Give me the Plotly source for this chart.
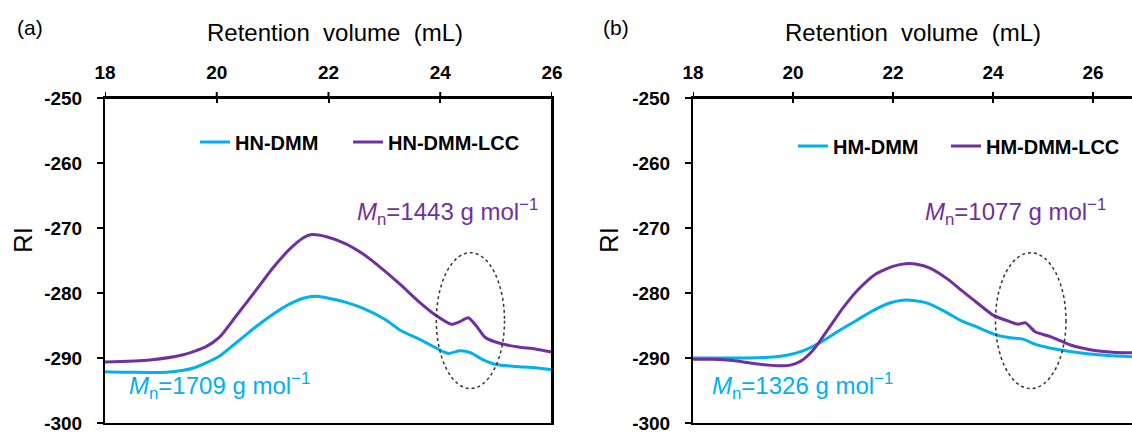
import plotly.graph_objects as go

# ---------------- data ----------------
x_ticks = [18, 20, 22, 24, 26]
x_ticktext = ["18", "20", "22", "24", "26"]
y_ticks = [-250, -260, -270, -280, -290, -300]
y_ticktext = ["-250", "-260", "-270", "-280", "-290", "-300"]

# panel (a)
a_dmm_x = [18.0, 18.5, 19.1, 19.4, 19.6, 19.8, 20.05, 20.3, 20.5, 20.7, 21.0, 21.3, 21.6, 21.8,
           22.0, 22.3, 22.6, 23.0, 23.3, 23.65, 24.0, 24.15, 24.35, 24.55, 24.75, 25.0, 25.35, 25.7, 26.0]
a_dmm_y = [-292.1, -292.2, -292.2, -291.9, -291.5, -290.8, -289.7, -288.0, -286.6, -285.2, -283.3,
           -281.7, -280.7, -280.5, -280.8, -281.4, -282.3, -284.0, -285.8, -287.2, -288.8, -289.3,
           -288.9, -289.2, -290.2, -291.0, -291.3, -291.5, -291.8]
a_lcc_x = [18.0, 18.8, 19.4, 19.8, 20.05, 20.35, 20.7, 21.0, 21.3, 21.55, 21.7, 21.95, 22.3, 22.6,
           22.95, 23.3, 23.6, 23.9, 24.2, 24.35, 24.5, 24.65, 24.8, 25.05, 25.4, 25.7, 26.0]
a_lcc_y = [-290.6, -290.3, -289.5, -288.3, -286.8, -283.5, -279.6, -276.2, -273.3, -271.5, -271.0,
           -271.3, -272.4, -273.9, -276.2, -278.8, -281.2, -283.3, -284.8, -284.4, -283.8, -285.1,
           -286.8, -287.7, -288.3, -288.6, -289.1]

# panel (b)
b_dmm_x = [18.0, 18.6, 19.1, 19.5, 19.85, 20.2, 20.55, 20.9, 21.25, 21.6, 21.95, 22.2, 22.45, 22.7,
           23.05, 23.35, 23.7, 24.05, 24.35, 24.6, 24.85, 25.3, 25.85, 26.3, 26.78]
b_dmm_y = [-290.0, -290.0, -290.0, -289.9, -289.6, -288.9, -287.6, -285.9, -284.3, -282.7, -281.5,
           -281.1, -281.2, -281.6, -282.9, -284.2, -285.3, -286.4, -286.9, -287.1, -287.9, -288.7,
           -289.3, -289.6, -289.8]
b_lcc_x = [18.0, 18.4, 18.8, 19.25, 19.7, 19.95, 20.15, 20.4, 20.7, 21.0, 21.3, 21.65, 22.0, 22.25,
           22.5, 22.75, 23.1, 23.4, 23.65, 24.0, 24.3, 24.5, 24.65, 24.85, 25.15, 25.55, 26.0, 26.4, 26.78]
b_lcc_y = [-290.2, -290.2, -290.4, -290.9, -291.2, -291.1, -290.5, -288.8, -285.6, -282.3, -279.5,
           -277.1, -275.9, -275.5, -275.6, -276.2, -277.9, -279.8, -281.3, -283.4, -284.3, -284.8,
           -284.6, -286.0, -286.7, -288.0, -288.8, -289.1, -289.2]

names = ["HN-DMM", "HN-DMM-LCC", "HM-DMM", "HM-DMM-LCC"]
mn_labels = ["1709", "1443", "1326", "1077"]

CYAN = "#00B0F0"
PURPLE = "#7030A0"
FONT = "Liberation Sans"
W, H = 1132, 432

fig = go.Figure()

def add(x, y, name, color, xa, ya, legend):
    fig.add_trace(go.Scatter(x=x, y=y, mode="lines", name=name,
                             line=dict(color=color, width=3, shape="spline", smoothing=0.6),
                             xaxis=xa, yaxis=ya, legend=legend, showlegend=True))

add(a_dmm_x, a_dmm_y, names[0], CYAN, "x", "y", "legend")
add(a_lcc_x, a_lcc_y, names[1], PURPLE, "x", "y", "legend2")
add(b_dmm_x, b_dmm_y, names[2], CYAN, "x2", "y2", "legend3")
add(b_lcc_x, b_lcc_y, names[3], PURPLE, "x2", "y2", "legend4")

ydom = [1 - 423 / H, 1 - 98 / H]

xcommon = dict(side="top", ticks="inside", ticklen=5, tickwidth=2, tickcolor="black",
               showline=True, linewidth=2, linecolor="black", mirror=True,
               tickvals=x_ticks, ticktext=x_ticktext, showgrid=False, zeroline=False,
               tickfont=dict(family=FONT, size=19, color="black", weight="bold"),
               ticklabeloverflow="allow", ticklabelstandoff=9, fixedrange=True)
ycommon = dict(ticks="outside", ticklen=6, tickwidth=2, tickcolor="black",
               showline=True, linewidth=2, linecolor="black",
               tickvals=y_ticks, ticktext=y_ticktext, showgrid=False, zeroline=False,
               range=[-300, -250], domain=ydom, ticklabeloverflow="allow",
               tickfont=dict(family=FONT, size=19, color="black", weight="bold"),
               ticklabelstandoff=11, fixedrange=True)

legfont = dict(family=FONT, size=20, color="black", weight="bold")

def leg(text_x, ypx):
    return dict(x=(text_x - 40) / W, y=1 - ypx / H, xanchor="left", yanchor="middle",
                font=legfont, bgcolor="rgba(0,0,0,0)", borderwidth=0, itemwidth=30)

fig.update_layout(
    width=W, height=H, margin=dict(l=0, r=0, t=0, b=0, autoexpand=False),
    paper_bgcolor="white", plot_bgcolor="white",
    xaxis=dict(domain=[105 / W, 552 / W], range=[18, 26], anchor="y", **xcommon),
    yaxis=dict(anchor="x", mirror=True, **ycommon),
    xaxis2=dict(domain=[693 / W, 1.0], range=[18, 26.78], anchor="y2", **xcommon),
    yaxis2=dict(anchor="x2", mirror=False, **ycommon),
    legend=leg(235, 142), legend2=leg(388, 142),
    legend3=leg(833, 146), legend4=leg(986, 146),
)

frame = dict(color="black", width=2)
# top frame lines of both panels and right frame line of panel (a)
for xr, yr in [("x domain", "y domain"), ("x2 domain", "y2 domain")]:
    fig.add_shape(type="line", xref=xr, yref=yr, x0=0, x1=1, y0=1, y1=1,
                  line=frame, layer="above")
fig.add_shape(type="line", xref="x domain", yref="y domain", x0=1, x1=1, y0=0, y1=1,
              line=frame, layer="above")
# small tick marks pointing up from the top axis, at the tick values
for xr, yr in [("x", "y domain"), ("x2", "y2 domain")]:
    for xv in x_ticks:
        fig.add_shape(type="line", xref=xr, yref=yr, x0=xv, x1=xv,
                      ysizemode="pixel", yanchor=1, y0=0, y1=6,
                      line=frame, layer="above")

# axis titles and panel letters
for xc in [335, 913]:
    fig.add_annotation(text="Retention\u00a0 volume\u00a0 (mL)", xref="paper", yref="paper",
                       x=xc / W, y=1 - 32 / H, xanchor="center", yanchor="middle",
                       showarrow=False, font=dict(family=FONT, size=24, color="black"))
for xc in [23, 609]:
    fig.add_annotation(text="RI", xref="paper", yref="paper", x=xc / W, y=1 - 240 / H,
                       xanchor="center", yanchor="middle", textangle=-90, showarrow=False,
                       font=dict(family=FONT, size=26, color="black"))
for txt, xl in [("(a)", 15), ("(b)", 601)]:
    fig.add_annotation(text=txt, xref="paper", yref="paper", x=xl / W, y=1 - 27 / H,
                       xanchor="left", yanchor="middle", showarrow=False,
                       font=dict(family=FONT, size=21, color="black"))

# Mn annotations
def mn(val, color, xr, yr, x, y):
    fig.add_annotation(text=f"<i>M</i><sub>n</sub>={val} g mol<sup>\u22121</sup>",
                       xref=xr, yref=yr, x=x, y=y, xanchor="left", yanchor="middle",
                       showarrow=False, font=dict(family=FONT, size=24, color=color))

mn(mn_labels[0], CYAN, "x", "y", 18.39, -294.3)
mn(mn_labels[1], PURPLE, "x", "y", 22.47, -267.6)
mn(mn_labels[2], CYAN, "x2", "y2", 18.34, -294.3)
mn(mn_labels[3], PURPLE, "x2", "y2", 22.60, -267.5)

# dotted ellipses around the shoulder
fig.add_shape(type="circle", xref="x", yref="y", x0=23.93, x1=25.15, y0=-294.7, y1=-273.8,
              line=dict(color="#333333", width=1.5, dash="dot"))
fig.add_shape(type="circle", xref="x2", yref="y2", x0=24.05, x1=25.46, y0=-294.7, y1=-273.8,
              line=dict(color="#333333", width=1.5, dash="dot"))

fig.write_html("out.html", config={"displayModeBar": False},
               post_script="document.body.style.margin='0px';document.body.style.overflow='hidden';")
